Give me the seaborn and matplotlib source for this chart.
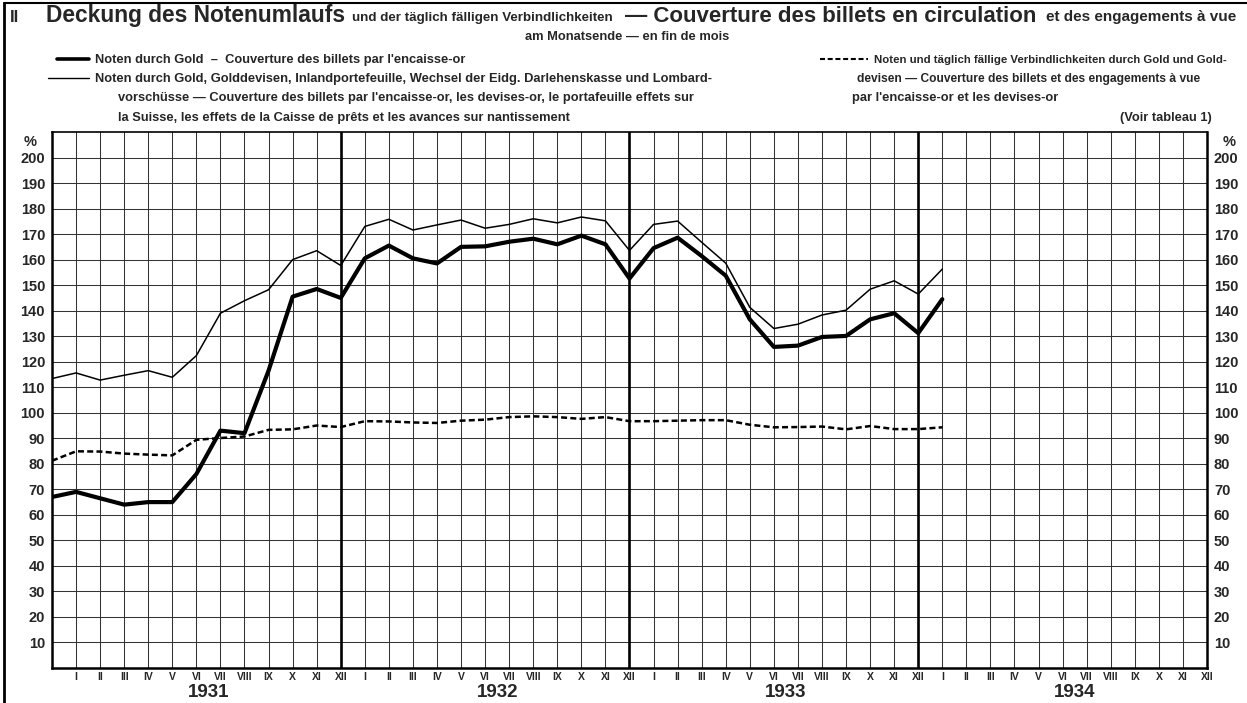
import matplotlib
matplotlib.use('Agg')
import matplotlib.pyplot as plt
import matplotlib.transforms as mtransforms
from matplotlib.lines import Line2D
from matplotlib import font_manager as fm
import pandas as pd
import seaborn as sns

# month index 0 = Dec 1930 ... 37 = Jan 1934 (end of month values, %)
gold = [67, 69, 66.5, 64, 65, 65, 76, 93, 92, 116.5, 145.5, 148.5, 145,
        160.5, 165.5, 160.5, 158.5, 165, 165.2, 167, 168.2, 166, 169.4, 166, 152.6,
        164.5, 168.6, 161.4, 153.7, 136.6, 125.8, 126.3, 129.7, 130.1, 136.6, 139, 131.2,
        144.5]
gold_all_assets = [113.4, 115.6, 112.8, 114.7, 116.5, 113.9, 122.4, 139, 143.9, 148.2, 160, 163.5, 157.7,
                   173, 175.8, 171.6, 173.6, 175.5, 172.3, 173.8, 176, 174.4, 176.7, 175.2, 163.6,
                   173.8, 175.1, 166.8, 158.6, 141.3, 133, 134.7, 138.3, 140.2, 148.4, 151.7, 146.5,
                   156.3]
gold_liabilities = [81.2, 84.9, 84.8, 84, 83.6, 83.3, 89.4, 90.1, 90.7, 93.3, 93.5, 95, 94.4,
                    96.7, 96.6, 96.2, 96, 96.9, 97.3, 98.3, 98.6, 98.3, 97.6, 98.3, 96.7,
                    96.7, 96.9, 97.1, 97.1, 95.3, 94.3, 94.4, 94.6, 93.5, 94.8, 93.6, 93.6,
                    94.3]

roman = ['I', 'II', 'III', 'IV', 'V', 'VI', 'VII', 'VIII', 'IX', 'X', 'XI', 'XII']
years = ['1931', '1932', '1933', '1934']

df = pd.DataFrame({'month': range(len(gold)), 'gold': gold,
                   'all': gold_all_assets, 'liab': gold_liabilities})

sns.set_style('white')
names = {f.name for f in fm.fontManager.ttflist}
main_font = 'Liberation Sans' if 'Liberation Sans' in names else 'DejaVu Sans'
narrow_font = 'Liberation Sans Narrow' if 'Liberation Sans Narrow' in names else main_font
plt.rcParams['font.family'] = [main_font, 'DejaVu Sans']

W, H = 1247, 703
fig = plt.figure(figsize=(W / 100, H / 100), dpi=100)
ax = fig.add_axes([52 / W, 1 - 668 / H, (1207 - 52) / W, (668 - 132) / H])

# grid
for v in range(10, 201, 10):
    ax.axhline(v, color='#333333', lw=0.75, zorder=1)
for m in range(1, 48):
    ax.axvline(m, color='black' if m % 12 == 0 else '#333333',
               lw=1.9 if m % 12 == 0 else 0.75, zorder=1)

sns.lineplot(data=df, x='month', y='all', color='black', lw=1.1, ax=ax, zorder=3)
sns.lineplot(data=df, x='month', y='gold', color='black', lw=3.0, ax=ax, zorder=4)
sns.lineplot(data=df, x='month', y='liab', color='black', lw=1.8, ls='--', ax=ax, zorder=3)
ax.lines[-1].set_dashes([2.4, 1.3])

ax.set_xlim(0, 48)
ax.set_ylim(0, 210)
ax.set_xlabel('')
ax.set_ylabel('')
ax.set_xticks(range(1, 49))
ax.set_xticklabels(roman * 4, fontsize=7.5, fontweight='bold')
ax.set_yticks(range(10, 201, 10))
ax.set_yticklabels([str(v) for v in range(10, 201, 10)], fontsize=10.5, fontweight='bold')
ax.tick_params(axis='x', length=0, pad=3)
ax.tick_params(axis='y', length=0, pad=5, labelright=True)
for side in ['left', 'bottom', 'right']:
    ax.spines[side].set_linewidth(1.8)
    ax.spines[side].set_color('black')
ax.spines['top'].set_linewidth(1.2)
ax.spines['top'].set_color('black')

trans = mtransforms.blended_transform_factory(ax.transData, fig.transFigure)
for i, yr in enumerate(years):
    ax.text(6.5 + 12 * i, 1 - 697 / H, yr, transform=trans, ha='center', va='baseline',
            fontsize=13.5, fontweight='bold')

fig.text(30 / W, 1 - 146 / H, '%', fontsize=10.5, fontweight='bold', ha='center', va='baseline')
fig.text(1229 / W, 1 - 146 / H, '%', fontsize=10.5, fontweight='bold', ha='center', va='baseline')

# outer frame
fig.add_artist(Line2D([4 / W, 4 / W], [0, 1 - 3 / H], color='black', lw=2))
fig.add_artist(Line2D([4 / W, 1], [1 - 3 / H, 1 - 3 / H], color='black', lw=1.5))

renderer = fig.canvas.get_renderer()


def put_text(x0, base, s, size, family):
    return fig.text(x0 / W, 1 - base / H, s, fontsize=size, fontweight='bold',
                    ha='left', va='baseline', family=family)


def fit_text(x0, x1, base, s, size, family):
    t = put_text(x0, base, s, size, family)
    w = t.get_window_extent(renderer).width
    t.set_fontsize(size * (x1 - x0) / w)
    return t


fig.text(10 / W, 1 - 22 / H, 'II', fontsize=12, fontweight='bold', va='baseline')
fit_text(46, 345, 22, 'Deckung des Notenumlaufs', 16, main_font)
fit_text(352, 615, 21, 'und der täglich fälligen Verbindlichkeiten', 8, narrow_font)
fit_text(625, 1038, 22, '— Couverture des billets en circulation', 16, main_font)
fit_text(1046, 1237, 21, 'et des engagements à vue', 8, narrow_font)

ref = fit_text(95, 710, 82, 'Noten durch Gold, Golddevisen, Inlandportefeuille, Wechsel der Eidg. '
               'Darlehenskasse und Lombard-', 9, narrow_font)
lsize = ref.get_fontsize()
put_text(525, 40, 'am Monatsende — en fin de mois', lsize, narrow_font)
put_text(95, 63, "Noten durch Gold  –  Couverture des billets par l'encaisse-or", lsize, narrow_font)
put_text(118, 101, "vorschüsse — Couverture des billets par l'encaisse-or, les devises-or, "
         "le portafeuille effets sur", lsize, narrow_font)
put_text(118, 121, 'la Suisse, les effets de la Caisse de prêts et les avances sur nantissement',
         lsize, narrow_font)
fit_text(874, 1225, 63, 'Noten und täglich fällige Verbindlichkeiten durch Gold und Gold-', lsize, narrow_font)
fit_text(857, 1200, 82, 'devisen — Couverture des billets et des engagements à vue', lsize, narrow_font)
fit_text(852, 1060, 101, "par l'encaisse-or et les devises-or", lsize, narrow_font)
t = put_text(1212, 121, '(Voir tableau 1)', lsize, narrow_font)
t.set_ha('right')

# legend samples
fig.add_artist(Line2D([57 / W, 89 / W], [1 - 59 / H] * 2, color='black', lw=2.6))
fig.add_artist(Line2D([48 / W, 89 / W], [1 - 78 / H] * 2, color='black', lw=1.0))
dash = Line2D([820 / W, 868 / W], [1 - 59 / H] * 2, color='black', lw=1.5)
dash.set_dashes([2.4, 1.3])
fig.add_artist(dash)

fig.savefig('out.png', dpi=100)
